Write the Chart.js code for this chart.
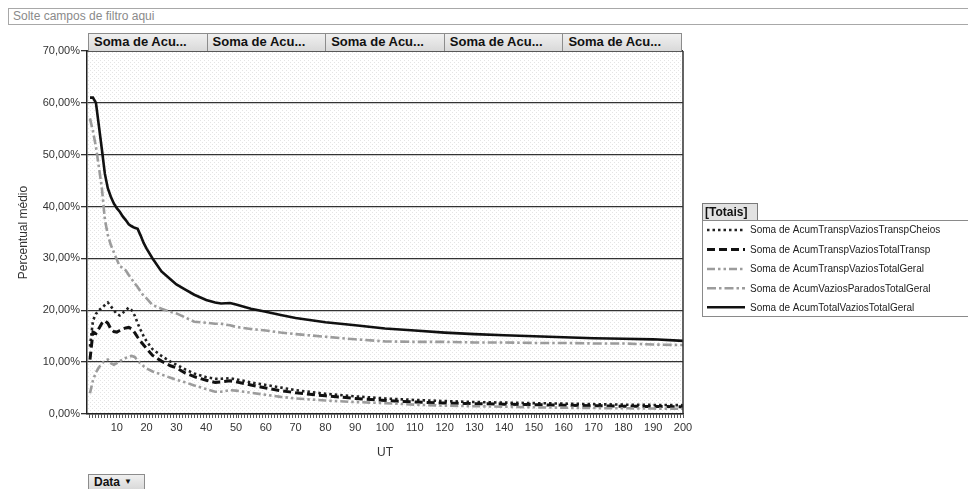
<!DOCTYPE html>
<html>
<head>
<meta charset="utf-8">
<script src="https://cdn.jsdelivr.net/npm/chart.js@4/dist/chart.umd.min.js"></script>
<style>
  html, body { margin:0; padding:0; background:#fff; }
  body { width:968px; height:489px; position:relative; overflow:hidden; font-family:"Liberation Sans", Arial, sans-serif; }
  #wrap { position:absolute; left:0; top:0; width:968px; height:489px; }
  #filter { position:absolute; left:8px; top:8px; width:980px; height:17px; border:1px solid #a8a8a8; box-sizing:border-box;
            font-size:12px; color:#8a8a8a; line-height:15px; padding-left:4px; }
  .hdr { position:absolute; top:33px; height:18px; box-sizing:border-box; border:1px solid #8c8c8c; border-bottom:none;
         background:linear-gradient(#f0f0f0,#d9d9d9); font-weight:bold; font-size:13px; color:#111; line-height:16px; padding-left:5px; white-space:nowrap; overflow:hidden; }
  #databtn { position:absolute; left:88px; top:474px; width:57px; height:16px; box-sizing:border-box; border:1px solid #8c8c8c;
             background:linear-gradient(#f0f0f0,#d9d9d9); font-weight:bold; font-size:12px; line-height:14px; padding-left:5px; color:#111; }
  #databtn span { font-size:8px; position:relative; top:-2px; margin-left:4px; }
</style>
</head>
<body>
<div id="filter">Solte campos de filtro aqui</div>
<div id="wrap"><canvas id="c" width="968" height="489"></canvas></div>
<div id="hdrs"></div>
<div id="databtn">Data<span>&#9660;</span></div>
<script>
// ---- data (percent) ----
const ut = [1,2,3,4,5,6,7,8,9,10,11,12,13,14,15,16,17,18,19,20,22,25,28,30,33,36,40,43,45,48,50,55,60,65,70,80,90,100,110,120,130,140,150,160,170,180,190,200];
const transpCheios = [13,18,19.3,20,20.5,21,21.5,20.8,20,19.3,19,19.5,20,20.5,20,19,17.5,16.2,15,14,12.5,11.2,10.1,9.5,8.6,7.8,7.1,6.8,6.8,6.9,6.7,6.1,5.6,5.1,4.6,3.9,3.4,3.0,2.7,2.5,2.3,2.2,2.1,2.0,1.9,1.8,1.75,1.7];
const totalTransp = [10.5,15.8,15.5,16.5,17.5,18,17.5,16.4,15.9,15.8,16.1,16.4,16.6,16.7,16.4,15.7,14.8,14,13.3,12.6,11.3,10.2,9.3,8.9,7.9,7.2,6.5,6.1,6.2,6.4,6.2,5.6,5.0,4.5,4.1,3.5,3.0,2.6,2.3,2.1,2.0,1.9,1.8,1.7,1.6,1.5,1.45,1.4];
const transpTotalGeral = [4,6.5,8,9,9.7,10.3,10.5,9.8,9.5,9.8,10.2,10.5,10.8,11,11.2,11,10.3,9.7,9.2,8.8,8.2,7.6,7,6.6,6.1,5.5,4.8,4.3,4.3,4.6,4.5,4.1,3.7,3.3,3.0,2.6,2.3,2.1,1.8,1.6,1.5,1.4,1.3,1.2,1.15,1.1,1.05,1.0];
const paradosTotalGeral = [57,54.5,51.5,47.6,43.5,37.5,34.5,32.6,31.2,29.8,28.5,28.2,27.7,26.8,26,25.2,24.5,23.6,22.8,22.3,21,20.3,19.7,19.4,18.6,17.8,17.6,17.4,17.4,17.1,16.8,16.4,16.1,15.7,15.4,14.9,14.4,14.0,13.9,13.9,13.8,13.8,13.7,13.7,13.6,13.6,13.4,13.3];
const totalVazios = [61,61,60,55.5,51,46.3,43.5,41.9,40.6,39.7,39,38.1,37.4,36.6,36.2,35.9,35.7,34.4,33,31.9,30,27.5,26,25,24,23,22,21.5,21.3,21.4,21.1,20.3,19.7,19.1,18.5,17.7,17.1,16.5,16.1,15.7,15.4,15.2,15.0,14.8,14.6,14.5,14.4,14.1];
const seriesNames = ['Soma de AcumTranspVaziosTranspCheios','Soma de AcumTranspVaziosTotalTransp','Soma de AcumTranspVaziosTotalGeral','Soma de AcumVaziosParadosTotalGeral','Soma de AcumTotalVaziosTotalGeral'];
const xTickLabels = [10,20,30,40,50,60,70,80,90,100,110,120,130,140,150,160,170,180,190,200];
const yTickValues = [0,10,20,30,40,50,60,70];
const headerLabels = ['Soma de Acu...','Soma de Acu...','Soma de Acu...','Soma de Acu...','Soma de Acu...'];
const legendTitle = '[Totais]';

// header buttons
const hdrs = document.getElementById('hdrs');
const hx0 = 88, hx1 = 681;
headerLabels.forEach((t, i) => {
  const w = (hx1 - hx0) / headerLabels.length;
  const d = document.createElement('div');
  d.className = 'hdr';
  d.style.left = (hx0 + i * w) + 'px';
  d.style.width = (w + 1) + 'px';
  d.textContent = t;
  hdrs.appendChild(d);
});

const FONT = '"Liberation Sans", Arial, sans-serif';
const allValues = [transpCheios, totalTransp, transpTotalGeral, paradosTotalGeral, totalVazios];
const styles = [
  { color:'#222222', width:2.6, dash:[2.5,3] },
  { color:'#111111', width:3, dash:[8,4] },
  { color:'#9c9c9c', width:2.6, dash:[8,3,2.5,3,2.5,3] },
  { color:'#9c9c9c', width:2.6, dash:[9,3,2.5,3] },
  { color:'#111111', width:2.6, dash:[] }
];

const datasets = allValues.map((vals, i) => ({
  label: seriesNames[i],
  data: vals.map((v, k) => ({ x: ut[k], y: v })),
  borderColor: styles[i].color,
  borderWidth: styles[i].width,
  borderDash: styles[i].dash,
  pointRadius: 0,
  tension: 0,
  fill: false
}));
datasets.forEach((d, i) => { d.order = 5 - i; });

function makePattern(ctx) {
  const p = document.createElement('canvas');
  p.width = 4; p.height = 4;
  const pc = p.getContext('2d');
  pc.fillStyle = '#ffffff'; pc.fillRect(0,0,4,4);
  pc.fillStyle = '#e4e4e4';
  pc.fillRect(0,0,1,1); pc.fillRect(2,2,1,1);
  return ctx.createPattern(p, 'repeat');
}

const bgPlugin = {
  id: 'bg',
  beforeDraw(chart) {
    const { ctx, chartArea: a } = chart;
    ctx.save();
    ctx.fillStyle = makePattern(ctx);
    ctx.fillRect(a.left, a.top, a.right - a.left, a.bottom - a.top);
    ctx.restore();
  },
  afterDatasetsDraw(chart) {
    const { ctx, chartArea: a } = chart;
    ctx.save();
    ctx.strokeStyle = '#333';
    ctx.lineWidth = 1.5;
    ctx.beginPath();
    ctx.moveTo(a.right, a.top); ctx.lineTo(a.right, a.bottom);
    ctx.moveTo(a.left, a.top); ctx.lineTo(a.right, a.top);
    ctx.stroke();
    ctx.restore();
  }
};

const legendPlugin = {
  id: 'customLegend',
  afterDraw(chart) {
    const ctx = chart.ctx;
    ctx.save();
    ctx.fillStyle = '#e2e2e2';
    ctx.fillRect(702.5, 203.5, 55, 17);
    ctx.strokeStyle = '#7a7a7a'; ctx.lineWidth = 1;
    ctx.strokeRect(702.5, 203.5, 55, 17);
    ctx.fillStyle = '#111';
    ctx.font = 'bold 12px ' + FONT;
    ctx.textBaseline = 'middle';
    ctx.fillText(legendTitle, 705, 212.5);
    ctx.fillStyle = '#fff';
    ctx.fillRect(702.5, 220.5, 280, 96);
    ctx.strokeStyle = '#8a8a8a';
    ctx.strokeRect(702.5, 220.5, 280, 96);
    const ys = [230, 249.5, 269, 288.3, 307.3];
    chart.data.datasets.forEach((d, i) => {
      const y = ys[i];
      ctx.strokeStyle = d.borderColor;
      ctx.lineWidth = d.borderWidth;
      ctx.setLineDash(d.borderDash);
      ctx.beginPath();
      ctx.moveTo(707, y); ctx.lineTo(745, y);
      ctx.stroke();
      ctx.setLineDash([]);
      ctx.fillStyle = '#222';
      ctx.font = '10px ' + FONT;
      ctx.fillText(d.label, 750, y + 0.5);
    });
    ctx.restore();
  }
};

new Chart(document.getElementById('c'), {
  type: 'line',
  data: { datasets },
  plugins: [bgPlugin, legendPlugin],
  options: {
    responsive: false,
    animation: false,
    layout: { padding: { top: 51, right: 285, left: 0, bottom: 0 } },
    plugins: { legend: { display: false }, tooltip: { enabled: false } },
    scales: {
      x: {
        type: 'linear', min: 0, max: 200,
        afterFit(s) { s.height = 75; },
        afterBuildTicks(s) {
          const t = [];
          for (let v = 1; v <= 200; v++) t.push({ value: v });
          s.ticks = t;
        },
        ticks: {
          autoSkip: false, maxRotation: 0, minRotation: 0, padding: 3,
          color: '#333', font: { family: FONT, size: 11 },
          callback(v) { return xTickLabels.includes(v) ? String(v) : ''; }
        },
        grid: { drawOnChartArea: false, drawTicks: true, tickLength: 4, color: '#555', lineWidth: 1 },
        border: { display: true, color: '#222', width: 1.5 },
        title: { display: true, text: 'UT', color: '#333', font: { family: FONT, size: 12 }, padding: { top: 0, bottom: 29 } }
      },
      y: {
        min: 0, max: 70,
        afterFit(s) { s.width = 87; },
        afterBuildTicks(s) { s.ticks = yTickValues.map(v => ({ value: v })); },
        ticks: {
          padding: 1, color: '#333', font: { family: FONT, size: 11 },
          callback(v) { return v.toFixed(2).replace('.', ',') + '%'; }
        },
        grid: { color: '#333', lineWidth: 1.3, tickLength: 6 },
        border: { display: true, color: '#222', width: 1.5 },
        title: { display: true, text: 'Percentual médio', color: '#333', font: { family: FONT, size: 12 }, padding: { top: 16, bottom: 0 } }
      }
    }
  }
});
</script>
</body>
</html>
